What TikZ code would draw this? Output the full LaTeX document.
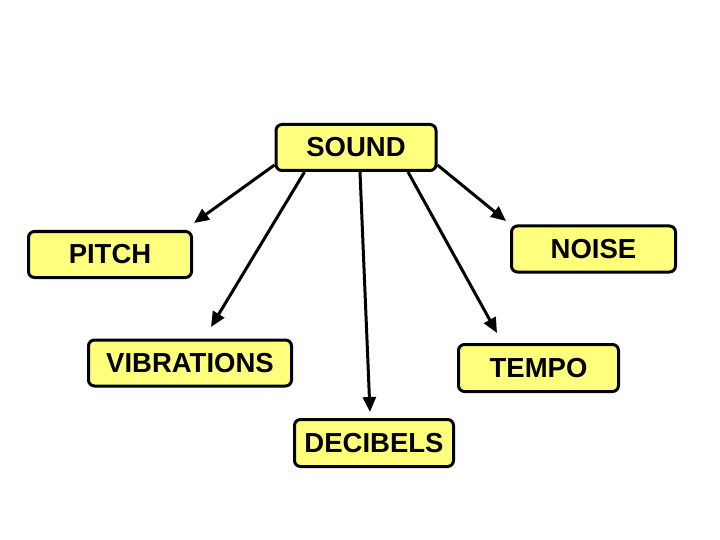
\documentclass[tikz,border=0pt]{standalone}
\usepackage{fontspec}
\setmainfont{Liberation Sans}
\usetikzlibrary{arrows.meta}
\definecolor{boxfill}{RGB}{255,255,125}
\tikzset{
  concept/.style={draw=black, line width=3pt, rounded corners=6pt, fill=boxfill,
    font=\bfseries\fontsize{27.5}{27.5}\selectfont, inner sep=0pt, minimum height=46pt},
  arr/.style={line width=3pt, -{Triangle[length=15pt,width=13pt]}}
}
\begin{document}
\begin{tikzpicture}[x=1pt,y=-1pt]
\useasboundingbox (0,0) rectangle (720,540);
\node[concept, minimum width=160pt] (sound) at (356,147.5) {SOUND};
\node[concept, minimum width=163pt] (pitch) at (110,254.5) {PITCH};
\node[concept, minimum width=164pt] (noise) at (593.5,249) {NOISE};
\node[concept, minimum width=203pt] (vib) at (190,363) {VIBRATIONS};
\node[concept, minimum width=160pt, minimum height=47pt] (tempo) at (538.5,368) {TEMPO};
\node[concept, minimum width=159pt, minimum height=47pt] (dec) at (374,443) {DECIBELS};
\coordinate (tp) at (194,223);
\coordinate (tv) at (211,327);
\coordinate (td) at (370,412);
\coordinate (tt) at (497,333);
\coordinate (tn) at (506,221);
\draw[arr] ([yshift=7pt]sound.south west) -- (tp);
\draw[arr] ([xshift=30pt]sound.south west) -- (tv);
\draw[arr] ([xshift=4pt]sound.south) -- (td);
\draw[arr] ([xshift=52pt]sound.south) -- (tt);
\draw[arr] ([yshift=7pt]sound.south east) -- (tn);
\end{tikzpicture}
\end{document}
